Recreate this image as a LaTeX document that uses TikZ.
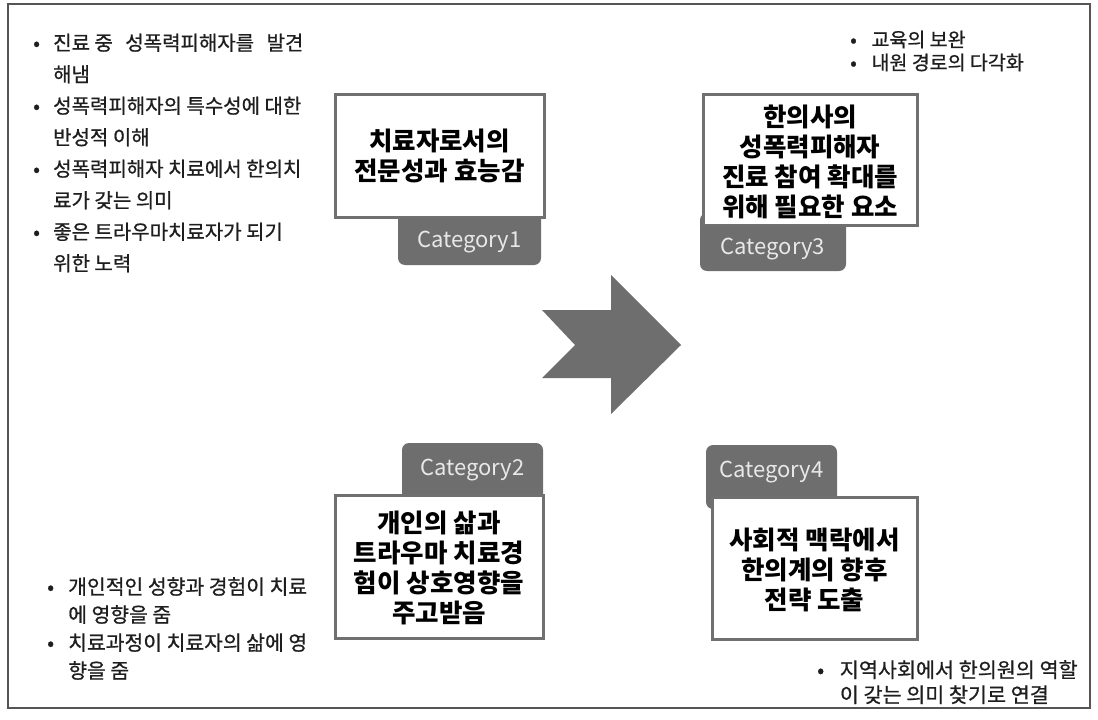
\documentclass[tikz,border=0pt]{standalone}
\usepackage{fontspec}
\setmainfont{Noto Sans CJK KR}
\newfontfamily\notefont{Noto Sans CJK KR}[FakeBold=0.8]
\usepackage{xcolor}
\usepackage{tikz}
\usetikzlibrary{positioning}
\definecolor{TabGray}{RGB}{110,110,110}
\definecolor{EdgeGray}{RGB}{112,112,112}
\definecolor{TabText}{RGB}{232,232,232}
\definecolor{FrameGray}{RGB}{85,85,85}
\definecolor{NoteText}{RGB}{30,30,30}
\tikzset{
	catbox/.style={draw=EdgeGray, line width=3pt, fill=white, inner sep=0pt},
	cattab/.style={fill=TabGray, rounded corners=7pt, inner sep=0pt},
	cattext/.style={text=TabText, inner sep=0pt, font=\fontsize{22}{24}\selectfont},
	boxtext/.style={align=center, inner sep=0pt, font=\fontsize{25.5}{30}\selectfont\bfseries},
	note/.style={align=left, anchor=north west, inner sep=0pt, text=NoteText}
}
\newcommand{\bul}[1][20pt]{\makebox[#1][l]{•}}
\newcommand{\ind}[1][20pt]{\hspace*{#1}}

\begin{document}
\begin{tikzpicture}[x=1pt, y=-1pt]
	\useasboundingbox (0,0) rectangle (1098,720);
	\draw[FrameGray, line width=1.2pt] (8,4) rectangle (1090,708);
	
	% 왼쪽 위 설명
	\node[note, font=\notefont\fontsize{20}{31.5}\selectfont] (notelt) at (33,33.5) {\bul 진료 중\hspace{0.4em} 성폭력피해자를\hspace{0.4em} 발견\\
		\ind 해냄\\
		\bul 성폭력피해자의 특수성에 대한\\
		\ind 반성적 이해\\
		\bul 성폭력피해자 치료에서 한의치\\
		\ind 료가 갖는 의미\\
		\bul 좋은 트라우마치료자가 되기\\
		\ind 위한 노력};
	% 오른쪽 위 설명
	\node[note, font=\notefont\fontsize{19.5}{23}\selectfont] (notert) at (850,30.5) {\bul[17pt] 교육의 보완\\
		\bul[17pt] 내원 경로의 다각화};
	% 왼쪽 아래 설명
	\node[note, font=\notefont\fontsize{20.4}{28}\selectfont] (notelb) at (47,577) {\bul[16.5pt] 개인적인 성향과 경험이 치료\\
		\ind[16.5pt] 에 영향을 줌\\
		\bul[16.5pt] 치료과정이 치료자의 삶에 영\\
		\ind[16.5pt] 향을 줌};
	% 오른쪽 아래 설명
	\node[note, font=\notefont\fontsize{20.7}{25}\selectfont] (noterb) at (817,660) {\bul[18pt] 지역사회에서 한의원의 역할\\
		\ind[18pt] 이 갖는 의미 찾기로 연결};
	
	% Category1
	\node[cattab, minimum width=143pt, minimum height=60pt] (tab1) at (469.5,235) {};
	\node[catbox, minimum width=209pt, minimum height=123pt] (box1) at (439.5,155.5) {};
	\node[boxtext] (txt1) at (box1.center) {치료자로서의\\전문성과 효능감};
	\node[cattext] (cat1) at (469.5,242) {Category1};
	
	% Category3
	\node[cattab, minimum width=146pt, minimum height=58pt] (tab3) at (773,242) {};
	\node[catbox, minimum width=214pt, minimum height=131pt] (box3) at (810,159.5) {};
	\node[boxtext] (txt3) at (810,162) {한의사의\\성폭력피해자\\진료 참여 확대를\\위해 필요한 요소};
	\node[cattext] (cat3) at (773,249) {Category3};
	
	% Category2
	\node[cattab, minimum width=141pt, minimum height=64pt] (tab2) at (472.5,475) {};
	\node[catbox, minimum width=208pt, minimum height=143pt] (box2) at (439,566.5) {};
	\node[boxtext] (txt2) at (439,568) {개인의 삶과\\트라우마 치료경\\험이 상호영향을\\주고받음};
	\node[cattext] (cat2) at (472.5,470) {Category2};
	
	% Category4
	\node[cattab, minimum width=131pt, minimum height=64pt] (tab4) at (771.5,477) {};
	\node[catbox, minimum width=205pt, minimum height=142pt] (box4) at (814.5,568) {};
	\node[boxtext] (txt4) at (814.5,570) {사회적 맥락에서\\한의계의 향후\\전략 도출};
	\node[cattext] (cat4) at (771.5,472) {Category4};
	
	% 가운데 화살표
	\fill[TabGray] (542,310) -- (611,310) -- (611,275) -- (681,345) -- (611,414) -- (611,378) -- (542,378) -- (575,345) -- cycle;
\end{tikzpicture}
\end{document}
